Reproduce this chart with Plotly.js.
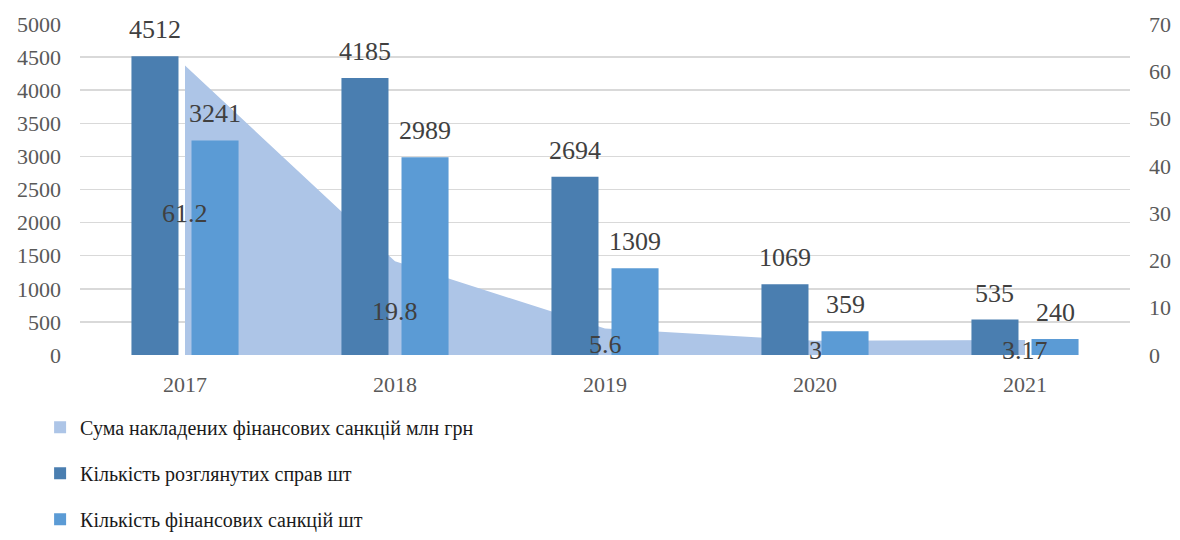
<!DOCTYPE html>
<html>
<head>
<meta charset="utf-8">
<script src="https://cdn.plot.ly/plotly-3.0.1.min.js"></script>
<style>
  body { margin: 0; background: #fff; }
  #chart { width: 1180px; height: 540px; }
</style>
</head>
<body>
<div id="chart"></div>
<script>
const years = ["2017", "2018", "2019", "2020", "2021"];
const sanctionsSum = [61.2, 19.8, 5.6, 3, 3.17];      // млн грн, права вісь
const casesCount = [4512, 4185, 2694, 1069, 535];      // шт
const sanctionsCount = [3241, 2989, 1309, 359, 240];   // шт

const nameSum = "Сума накладених фінансових санкцій млн грн";
const nameCases = "Кількість розглянутих справ шт";
const nameSanctions = "Кількість фінансових санкцій шт";

const cArea = "#adc5e7";
const cDark = "#4a7eb0";
const cLight = "#5b9bd5";
const font = "Liberation Serif";

// ширина стовпця і зсув від центру категорії (1 = ширина категорії)
const barW = 0.224;
const barShift = 0.143;

const traces = [
    // тільки для легенди (квадратний маркер площі)
    {
        x: [null], y: [null], type: "scatter", mode: "markers",
        name: nameSum, legendgroup: "a",
        marker: { symbol: "square", size: 12, color: cArea },
        yaxis: "y"
    },
    {
        x: years, y: sanctionsSum, type: "scatter", mode: "none",
        fill: "tozeroy", fillcolor: cArea, showlegend: false,
        hoverinfo: "skip", yaxis: "y"
    },
    {
        x: years, y: casesCount, type: "bar", name: nameCases,
        legendgroup: "b", marker: { color: cDark },
        width: barW, offset: -barShift - barW / 2, yaxis: "y2"
    },
    {
        x: years, y: sanctionsCount, type: "bar", name: nameSanctions,
        legendgroup: "c", marker: { color: cLight },
        width: barW, offset: barShift - barW / 2, yaxis: "y2"
    }
];

// підписи даних; x як індекс категорії (рядки "2017" тут не працюють)
const labelFont = { family: font, size: 26, color: "#404040" };
const annotations = [];
years.forEach((yr, i) => {
    annotations.push({
        x: i - barShift, y: casesCount[i], xref: "x", yref: "y2", text: String(casesCount[i]),
        showarrow: false, yanchor: "bottom", yshift: 10, font: labelFont
    });
    annotations.push({
        x: i + barShift, y: sanctionsCount[i], xref: "x", yref: "y2", text: String(sanctionsCount[i]),
        showarrow: false, yanchor: "bottom", yshift: 10, font: labelFont
    });
    annotations.push({
        x: i, y: sanctionsSum[i] / 2, xref: "x", yref: "y", text: String(sanctionsSum[i]),
        showarrow: false, yanchor: "middle", yshift: -3, font: labelFont
    });
});

const tickFont = { family: font, size: 22, color: "#595959" };

const layout = {
    width: 1180, height: 540,
    margin: { l: 80, r: 50, t: 24, b: 185, autoexpand: false },
    paper_bgcolor: "#fff", plot_bgcolor: "#fff",
    font: { family: font },
    barmode: "overlay",
    showlegend: true,
    legend: {
        orientation: "v", x: -0.038, xanchor: "left", y: -0.159, yanchor: "top",
        font: { family: font, size: 20, color: "#1a1a1a" },
        tracegroupgap: 17, traceorder: "grouped"
    },
    xaxis: {
        type: "category", categoryarray: years, range: [-0.5, 4.5],
        showgrid: false, zeroline: false, showline: false, ticks: "",
        tickfont: tickFont, ticklabelstandoff: 14
    },
    yaxis: {
        side: "right", range: [0, 70], dtick: 10, showgrid: false, zeroline: false,
        showline: false, ticks: "", tickfont: tickFont, ticklabelstandoff: 18
    },
    yaxis2: {
        overlaying: "y", side: "left", anchor: "x", range: [0, 5000], dtick: 500,
        showgrid: true, gridcolor: "#d9d9d9", gridwidth: 1.5, zeroline: false,
        showline: false, ticks: "", tickfont: tickFont, ticklabelstandoff: 18
    },
    annotations: annotations
};

Plotly.newPlot("chart", traces, layout, { staticPlot: true });
</script>
</body>
</html>
